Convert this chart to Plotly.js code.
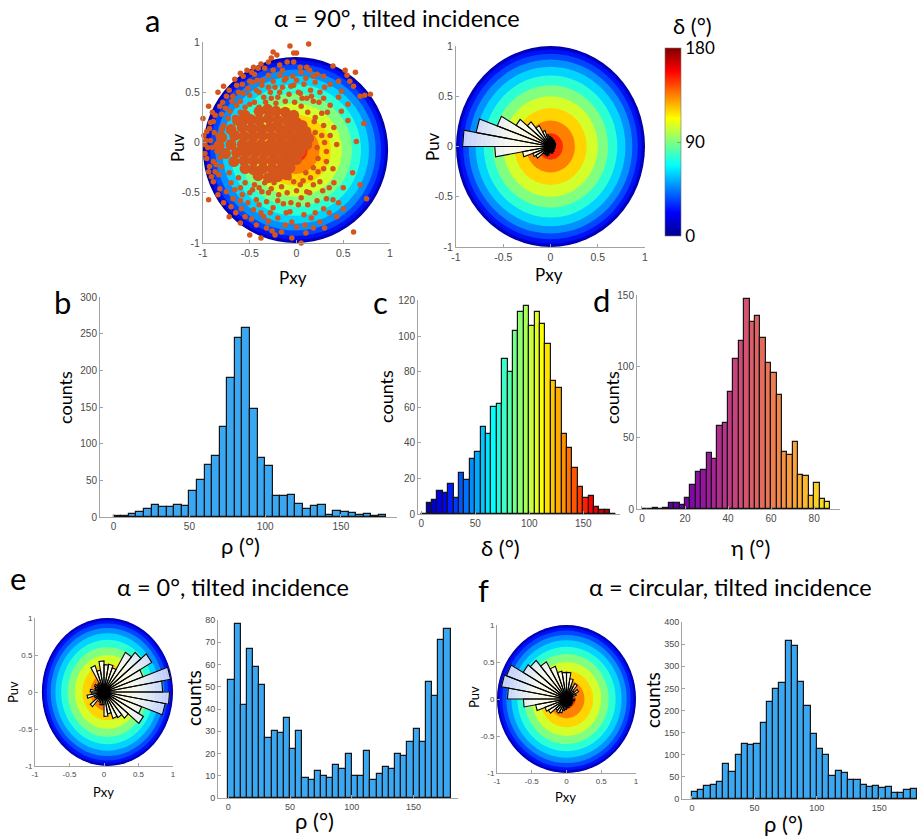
<!DOCTYPE html>
<html><head><meta charset="utf-8">
<script src="https://cdn.plot.ly/plotly-3.0.1.min.js"></script>
<style>html,body{margin:0;padding:0;background:#fff}#chart{width:917px;height:836px}</style>
</head><body><div id="chart"></div>
<script>
// ---------------- DATA ----------------
const binCenters = [2.5,7.5,12.5,17.5,22.5,27.5,32.5,37.5,42.5,47.5,52.5,57.5,62.5,67.5,72.5,77.5,82.5,87.5,92.5,97.5,102.5,107.5,112.5,117.5,122.5,127.5,132.5,137.5,142.5,147.5,152.5,157.5,162.5,167.5,172.5,177.5];
const rhoCountsB = [2,2,4,7,11,17,14,14,16,15,35,50,71,83,123,190,244,258,147,80,70,29,28,30,18,11,15,16,3,8,7,5,3,4,2,3];
const deltaCounts = [0,6,8,13,12,17,9,23,19,31,35,49,45,60,62,87,80,103,114,117,106,114,107,96,75,71,45,37,26,15,9,10,4,2,2,0];
const etaCenters = [1.25,3.75,6.25,8.75,11.25,13.75,16.25,18.75,21.25,23.75,26.25,28.75,31.25,33.75,36.25,38.75,41.25,43.75,46.25,48.75,51.25,53.75,56.25,58.75,61.25,63.75,66.25,68.75,71.25,73.75,76.25,78.75,81.25,83.75,86.25];
const etaCounts = [0,0,1,0,1,4,4,3,8,17,26,27,39,35,58,60,82,105,118,147,131,135,120,102,95,80,40,38,47,24,23,9,18,7,5];
const rhoCountsE = [53,78,42,67,59,51,27,30,29,36,22,30,9,8,12,10,9,15,13,20,10,10,21,8,11,14,13,20,19,25,31,25,52,46,71,76];
const rhoCountsF = [16,20,30,32,39,80,60,99,125,121,124,171,219,249,262,358,346,265,210,148,112,99,53,64,59,42,44,31,27,29,25,27,14,14,21,22];

// rose (polar histogram of 2*rho), bin centres in degrees and relative radii
const roseAngles = [5,15,25,35,45,55,65,75,85,95,105,115,125,135,145,155,165,175,185,195,205,215,225,235,245,255,265,275,285,295,305,315,325,335,345,355];
const roseA = [0.05,0.05,0.06,0.06,0.06,0.07,0.07,0.08,0.09,0.10,0.12,0.17,0.24,0.32,0.42,0.60,0.80,0.93,0.59,0.30,0.20,0.18,0.10,0.09,0.10,0.09,0.06,0.06,0.07,0.05,0.06,0.05,0.04,0.05,0.04,0.05];
const roseE = [0.85,0.98,0.60,0.80,0.70,0.62,0.35,0.38,0.37,0.42,0.30,0.38,0.14,0.13,0.16,0.14,0.13,0.20,0.18,0.25,0.15,0.14,0.26,0.12,0.15,0.18,0.17,0.33,0.30,0.38,0.40,0.46,0.66,0.58,0.90,0.95];
const roseF = [0.08,0.09,0.15,0.20,0.14,0.24,0.18,0.28,0.36,0.36,0.38,0.47,0.58,0.68,0.72,0.92,0.95,0.85,0.62,0.45,0.33,0.30,0.20,0.22,0.20,0.16,0.14,0.12,0.12,0.10,0.11,0.10,0.10,0.08,0.10,0.12];

// contour rings of delta (outer -> inner)
const ringRadii = [1.0,0.991,0.966,0.924,0.866,0.793,0.707,0.609,0.5,0.383,0.259,0.131];
const ringColors = ['#00008F','#0000C8','#0010F5','#0045FF','#0090FF','#00D4FF','#2BFFD4','#80FF80','#D4FF2B','#FFD400','#FF8000','#FF2B00'];

// panel a scatter (Pxy, Puv)
const scatterPts = [
[-0.07,0.96],[0.13,0.98],[0.0,0.89],[-0.25,0.90],[-0.21,0.87],[-0.27,0.84],[-0.03,0.89],[-0.6,0.69],
[-0.46,0.75],[-0.48,0.70],[-0.41,0.74],[-0.34,0.74],[-0.18,0.77],[-0.10,0.80],[-0.03,0.80],[0.04,0.75],[0.11,0.75],[0.14,0.72],[0.22,0.68],[0.29,0.66],[0.39,0.76],[0.52,0.72],[0.63,0.70],[0.54,0.67],[0.57,0.61],[0.61,0.56],[0.68,0.46],[0.73,0.47],[0.79,0.48],
[0.48,0.51],[0.45,0.61],[0.36,0.58],[0.29,0.44],[0.36,0.37],[0.27,0.29],[0.18,0.41],[0.11,0.44],[0.04,0.49],[-0.03,0.57],[-0.11,0.64],[-0.18,0.67],[-0.25,0.61],[-0.30,0.67],[-0.37,0.57],[-0.43,0.52],[-0.50,0.47],[-0.57,0.49],[-0.60,0.41],[-0.64,0.37],[-0.71,0.31],[-0.76,0.34],[-0.82,0.36],[-0.87,0.27],[-0.94,0.36],[-0.89,0.21],[-0.96,0.11],[-0.99,0.07],[-1.0,0.24],[-0.84,0.07],[-0.78,0.17],[-0.73,0.24],[-0.69,0.41],[-0.75,0.46],[-0.64,0.57],[-0.57,0.66],[-0.50,0.61],
[-0.35,0.45],[-0.28,0.50],[-0.20,0.45],[-0.15,0.55],[-0.08,0.48],[-0.02,0.40],[0.05,0.36],[-0.45,0.40],[-0.55,0.35],[-0.40,0.35],[-0.22,0.39],[-0.12,0.41],[0.0,0.62],[0.08,0.58],[0.15,0.52],[-0.30,0.55],[-0.42,0.62],[-0.62,0.50],[-0.25,0.72],[0.20,0.60],[0.25,0.50],[0.12,0.30],[0.20,0.25],[-0.66,0.25],[-0.80,0.28],[-0.72,0.52],
[-0.58,0.58],[-0.52,0.54],[-0.47,0.60],[-0.40,0.50],[-0.36,0.62],[-0.33,0.40],[-0.27,0.44],[-0.23,0.55],[-0.18,0.50],[-0.13,0.62],[-0.06,0.56],[-0.04,0.66],[0.02,0.50],[0.06,0.44],[0.10,0.64],[0.16,0.46],[0.18,0.66],[0.24,0.40],[0.30,0.55],[0.33,0.30],[-0.50,0.38],[-0.60,0.30],[-0.68,0.46],[-0.79,0.40],[-0.84,0.50],[-0.90,0.30],[-0.92,0.20],[-0.45,0.68],[-0.38,0.78],[-0.30,0.80],[-0.15,0.72],[0.05,0.70],[-0.53,0.72],[-0.66,0.63],[-0.78,0.56],
[-0.98,-0.02],[-0.98,-0.11],[-0.96,-0.16],[-0.93,-0.24],[-0.94,-0.29],[-0.87,-0.29],[-0.89,-0.19],[-0.85,-0.09],[-1.02,0.0],[-0.92,0.02],[-0.90,-0.05],
[-0.95,-0.05],[-0.88,0.10],[-0.82,-0.15],[-0.86,-0.22],[-0.80,0.13],[-0.93,0.14],[-0.97,0.02],[-0.91,-0.34],[-0.83,-0.32],[-0.80,-0.24],
[-0.89,-0.39],[-0.82,-0.46],[-0.94,-0.57],[-0.75,-0.49],[-0.68,-0.56],[-0.59,-0.66],[-0.55,-0.74],[-0.46,-0.67],[-0.43,-0.57],[-0.37,-0.49],[-0.32,-0.59],[-0.35,-0.74],[-0.43,-0.82],[-0.32,-0.85],[-0.23,-0.92],[-0.16,-0.89],[-0.50,-0.92],[-0.27,-0.46],[-0.19,-0.52],[-0.14,-0.61],[-0.07,-0.69],[-0.05,-0.79],[0.0,-0.84],[0.09,-0.82],[0.18,-0.85],[0.25,-0.79],[0.20,-0.70],[0.29,-0.66],[0.32,-0.56],[0.39,-0.57],[0.50,-0.66],[0.43,-0.74],[0.61,-0.89],[0.75,-0.56],[0.11,-0.49],[0.04,-0.42],[-0.03,-0.39],[0.18,-0.42],[0.25,-0.39],[0.23,-0.29],[0.29,-0.26],[0.32,-0.19],[0.39,-0.26],[0.32,-0.09],[0.43,-0.02],[0.64,0.01],[0.72,0.19],[0.27,0.07],[0.29,0.17],[0.19,0.21],[-0.16,-1.03],[0.20,-1.02],
[-0.60,-0.45],[-0.50,-0.50],[-0.55,-0.40],[-0.45,-0.42],[-0.62,-0.35],[-0.70,-0.40],[-0.25,-0.65],[-0.20,-0.75],[-0.10,-0.50],[0.05,-0.55],[0.12,-0.62],[0.15,-0.35],[-0.40,-0.62],[-0.65,-0.70],[-0.30,-0.78],[0.08,-0.72],[0.35,-0.45],[0.10,-0.30],[-0.08,-0.35],[-0.60,-0.58],[-0.78,-0.60],[-0.12,-0.82],[0.30,-0.85],[-0.38,-0.95],[-0.05,-0.95],[0.05,-1.0],
[-0.72,-0.30],[-0.66,-0.47],[-0.58,-0.52],[-0.52,-0.60],[-0.47,-0.47],[-0.40,-0.45],[-0.34,-0.40],[-0.30,-0.50],[-0.24,-0.40],[-0.20,-0.58],[-0.16,-0.44],[-0.11,-0.70],[-0.06,-0.60],[0.0,-0.48],[0.02,-0.62],[0.07,-0.38],[0.14,-0.50],[0.16,-0.75],[-0.28,-0.70],[-0.38,-0.70],[-0.48,-0.76],[-0.60,-0.80],[-0.70,-0.64],[-0.26,-0.88],[0.10,-0.90],[0.22,-0.58],[0.28,-0.48],[0.40,-0.40],[0.45,-0.60],[-0.84,-0.52],[-0.72,-0.74],[0.35,-0.70],
[0.36,0.07],[0.23,-0.16],[0.48,0.31],[0.55,0.22],[0.60,-0.30],[0.50,-0.45],[0.68,-0.42],[0.20,0.10],[0.22,-0.05],[0.18,-0.25],[0.30,0.0],[0.40,0.15],[0.45,0.45],[0.55,0.38]
];
// dense core of the scatter cloud
const corePts = [
[-0.40,0.31],[-0.31,0.33],[-0.22,0.31],[-0.12,0.30],[-0.03,0.27],[-0.55,0.27],[-0.63,0.22],
[-0.58,0.21],[-0.49,0.23],[-0.40,0.22],[-0.30,0.24],[-0.20,0.22],[-0.10,0.22],[0.0,0.20],[0.06,0.17],
[-0.70,0.13],[-0.58,0.15],[-0.48,0.14],[-0.38,0.14],[-0.28,0.15],[-0.18,0.14],[-0.08,0.14],[0.02,0.14],[0.10,0.11],
[-0.80,0.05],[-0.66,0.07],[-0.56,0.06],[-0.46,0.06],[-0.36,0.07],[-0.26,0.06],[-0.16,0.06],[-0.06,0.06],[0.04,0.06],[0.13,0.04],
[-0.83,-0.03],[-0.70,-0.02],[-0.58,-0.02],[-0.48,-0.02],[-0.38,-0.02],[-0.28,-0.02],[-0.18,-0.02],[-0.08,-0.02],[0.02,-0.02],[0.11,-0.02],
[-0.76,-0.11],[-0.64,-0.10],[-0.54,-0.10],[-0.44,-0.10],[-0.34,-0.10],[-0.24,-0.10],[-0.14,-0.10],[-0.04,-0.10],[0.04,-0.09],
[-0.67,-0.19],[-0.56,-0.18],[-0.46,-0.18],[-0.36,-0.18],[-0.26,-0.18],[-0.16,-0.18],[-0.06,-0.18],[0.0,-0.17],
[-0.55,-0.26],[-0.46,-0.27],[-0.36,-0.26],[-0.26,-0.26],[-0.16,-0.26],[-0.07,-0.25],
[-0.41,-0.33],[-0.30,-0.35],[-0.20,-0.34],[-0.11,-0.32]
];

const discTicks = [-1,-0.5,0,0.5,1];
const discTickText = ['-1','-0.5','0','0.5','1'];
const rhoTicks = [0,50,100,150];
const etaTicks = [0,20,40,60,80];

// ---------------- HELPERS ----------------
const W = 917, H = 836;
const xd = (a,b) => [a/W, b/W];
const yd = (a,b) => [1-b/H, 1-a/H];
const LBL = 'Lato, "Open Sans", "DejaVu Sans", sans-serif';
const TCK = '"Liberation Sans", Arial, sans-serif';

function mkAxis(domain, range, anchor, tickvals, ticktext, size){
  const a = {domain, range, anchor, tickmode:'array', tickvals, showgrid:false, zeroline:false,
    showline:true, linecolor:'#a3a3a3', linewidth:1, ticks:'inside', ticklen:3, tickcolor:'#a3a3a3',
    tickfont:{family:TCK, size, color:'#4a4a4a'}, fixedrange:true, automargin:false};
  if (ticktext) a.ticktext = ticktext;
  return a;
}
function ann(text, px, py, size, angle){
  const o = {text, x:px/W, y:1-py/H, xref:'paper', yref:'paper', showarrow:false,
    xanchor:'center', yanchor:'middle', font:{family:LBL, size, color:'#000'}};
  if (angle) o.textangle = angle;
  return o;
}
function discShapes(xref, yref, cx, cy, rx, ry){
  return ringRadii.map((f,i)=>({type:'circle', xref, yref, layer:'below',
    x0:cx-f*rx, x1:cx+f*rx, y0:cy-f*ry, y1:cy+f*ry, fillcolor:ringColors[i], line:{width:0}}));
}
function petalColor(r){
  const st = [[0,[255,250,205]],[0.45,[248,249,240]],[1.0,[188,204,255]]];
  let i = 0; while (i < st.length-2 && r > st[i+1][0]) i++;
  const t = Math.max(0, Math.min(1, (r-st[i][0])/(st[i+1][0]-st[i][0])));
  const c = st[i][1].map((v,k)=>Math.round(v+(st[i+1][1][k]-v)*t));
  return 'rgb('+c.join(',')+')';
}
function roseTraces(radii, xa, ya){
  const nSeg = 20, out = [];
  const rad = d => d*Math.PI/180;
  for (let k=0;k<nSeg;k++){
    const r0 = k/nSeg, r1 = (k+1)/nSeg, xs=[], ys=[];
    radii.forEach((R,i)=>{
      if (R <= r0) return;
      const rr = Math.min(R, r1);
      const a0 = rad(roseAngles[i]-5), a1 = rad(roseAngles[i]+5);
      xs.push(r0*Math.cos(a0), rr*Math.cos(a0), rr*Math.cos(a1), r0*Math.cos(a1), r0*Math.cos(a0), null);
      ys.push(r0*Math.sin(a0), rr*Math.sin(a0), rr*Math.sin(a1), r0*Math.sin(a1), r0*Math.sin(a0), null);
    });
    if (!xs.length) continue;
    const col = petalColor((r0+r1)/2);
    out.push({type:'scatter', mode:'lines', x:xs, y:ys, fill:'toself', fillcolor:col,
      line:{width:0.6, color:col}, xaxis:xa, yaxis:ya, hoverinfo:'skip', showlegend:false});
  }
  const ox=[], oy=[];
  radii.forEach((R,i)=>{
    const a0 = rad(roseAngles[i]-5), a1 = rad(roseAngles[i]+5);
    ox.push(0, R*Math.cos(a0), R*Math.cos(a1), 0, null);
    oy.push(0, R*Math.sin(a0), R*Math.sin(a1), 0, null);
  });
  out.push({type:'scatter', mode:'lines', x:ox, y:oy, line:{width:1.1, color:'#000'},
    xaxis:xa, yaxis:ya, hoverinfo:'skip', showlegend:false});
  return out;
}
function histTrace(x, y, width, xa, ya, marker){
  return {type:'bar', x, y, width, xaxis:xa, yaxis:ya, marker, hoverinfo:'x+y', showlegend:false};
}

const jetScale = [[0,'#00008F'],[0.125,'#0000FF'],[0.375,'#00FFFF'],[0.625,'#FFFF00'],[0.875,'#FF0000'],[1,'#800000']];
const plasmaScale = [[0,'#0d0887'],[0.1,'#41049d'],[0.2,'#6a00a8'],[0.3,'#8f0da4'],[0.4,'#b12a90'],[0.5,'#cc4778'],[0.6,'#e16462'],[0.7,'#f2844b'],[0.8,'#fca636'],[0.9,'#fcce25'],[1,'#f0f921']];
const histBlue = '#3AA7F3';
const edge = {color:'#151515', width:1.2};
const dotColor = '#D4561C';

// ---------------- TRACES ----------------
const traces = [];
traces.push({type:'scatter', mode:'markers', x:corePts.map(p=>p[0]), y:corePts.map(p=>p[1]),
  marker:{color:dotColor, size:11, line:{width:0}}, xaxis:'x', yaxis:'y', cliponaxis:false, hoverinfo:'skip', showlegend:false});
traces.push({type:'scatter', mode:'markers', x:scatterPts.map(p=>p[0]), y:scatterPts.map(p=>p[1]),
  marker:{color:dotColor, size:5.5, line:{width:0}}, xaxis:'x', yaxis:'y', cliponaxis:false, showlegend:false});
traces.push(...roseTraces(roseA, 'x2', 'y2'));
traces.push(...roseTraces(roseE, 'x6', 'y6'));
traces.push(...roseTraces(roseF, 'x8', 'y8'));

traces.push(histTrace(binCenters, rhoCountsB, 5, 'x3', 'y3', {color:histBlue, line:edge}));
traces.push(histTrace(binCenters, deltaCounts, 5, 'x4', 'y4', {color:binCenters, colorscale:jetScale, cmin:0, cmax:180, line:edge,
  showscale:true, colorbar:{x:665/W, xanchor:'left', y:1-142/H, yanchor:'middle', len:188/H, lenmode:'fraction',
    thickness:16, thicknessmode:'pixels', xpad:0, ypad:0, outlinewidth:0.6, outlinecolor:'#777',
    tickmode:'array', tickvals:[0,90,180], ticks:'inside', ticklen:4, tickcolor:'rgba(0,0,0,0.25)',
    tickfont:{family:LBL, size:17, color:'#000'}}}));
traces.push(histTrace(etaCenters, etaCounts, 2.5, 'x5', 'y5', {color:etaCenters, colorscale:plasmaScale, cmin:0, cmax:90, line:edge}));
traces.push(histTrace(binCenters, rhoCountsE, 5, 'x7', 'y7', {color:histBlue, line:edge}));
traces.push(histTrace(binCenters, rhoCountsF, 5, 'x9', 'y9', {color:histBlue, line:edge}));

// ---------------- LAYOUT ----------------
const layout = {
  width:W, height:H, margin:{l:0,r:0,t:0,b:0}, paper_bgcolor:'#fff', plot_bgcolor:'rgba(0,0,0,0)',
  showlegend:false, bargap:0, hovermode:'closest',
  xaxis:  mkAxis(xd(203,390), [-1,1], 'y', discTicks, discTickText, 10.5),
  yaxis:  mkAxis(yd(42,243), [-1,1], 'x', discTicks, discTickText, 10.5),
  xaxis2: mkAxis(xd(456,645), [-1,1], 'y2', discTicks, discTickText, 10.5),
  yaxis2: mkAxis(yd(46,247), [-1,1], 'x2', discTicks, discTickText, 10.5),
  xaxis3: mkAxis(xd(100,397), [-9,187], 'y3', rhoTicks, null, 10),
  yaxis3: mkAxis(yd(297,517), [0,300], 'x3', [0,50,100,150,200,250,300], null, 10),
  xaxis4: mkAxis(xd(418,620), [-3,184], 'y4', rhoTicks, null, 10),
  yaxis4: mkAxis(yd(300,514), [0,120.5], 'x4', [0,20,40,60,80,100,120], null, 10),
  xaxis5: mkAxis(xd(637,840), [-2.3,92], 'y5', etaTicks, null, 10),
  yaxis5: mkAxis(yd(295,509), [0,150], 'x5', [0,50,100,150], null, 10),
  xaxis6: mkAxis(xd(35,173), [-1,1], 'y6', discTicks, discTickText, 8),
  yaxis6: mkAxis(yd(618,766), [-1,1], 'x6', discTicks, discTickText, 8),
  xaxis7: mkAxis(xd(218,458), [-8.4,186], 'y7', rhoTicks, null, 9),
  yaxis7: mkAxis(yd(620,798), [0,80], 'x7', [0,10,20,30,40,50,60,70,80], null, 9),
  xaxis8: mkAxis(xd(497,636), [-1,1], 'y8', discTicks, discTickText, 8),
  yaxis8: mkAxis(yd(625,773), [-1,1], 'x8', discTicks, discTickText, 8),
  xaxis9: mkAxis(xd(682,917), [-8,180.2], 'y9', rhoTicks, null, 9),
  yaxis9: mkAxis(yd(622,799), [0,400], 'x9', [0,50,100,150,200,250,300,350,400], null, 9),
  shapes: [].concat(
    discShapes('x','y', -0.01, -0.075, 0.99, 0.925),
    discShapes('x2','y2', 0, 0, 1, 1),
    discShapes('x6','y6', 0.05, 0, 0.95, 1),
    discShapes('x8','y8', 0, 0, 1, 1)
  ),
  annotations: [
    ann('a', 152, 20, 31), ann('α = 90°, tilted incidence', 397, 18, 23.5),
    ann('Pxy', 293, 277, 17), ann('Puv', 177, 148, 17, -90),
    ann('Pxy', 549, 274, 17), ann('Puv', 432, 147, 17, -90),
    ann('δ (°)', 692, 26, 22),
    ann('b', 62, 302, 31), ann('counts', 65, 398, 18, -90), ann('ρ (°)', 240, 545, 22),
    ann('c', 380, 302, 31), ann('counts', 386, 397, 18, -90), ann('δ (°)', 500, 547, 22),
    ann('d', 601, 300, 31), ann('counts', 612, 398, 18, -90), ann('η (°)', 750, 547, 22),
    ann('e', 18, 578, 31), ann('α = 0°, tilted incidence', 233, 587, 23.5),
    ann('Pxy', 103, 792, 13), ann('Puv', 13, 692, 13, -90),
    ann('counts', 193, 698, 19, -90), ann('ρ (°)', 314, 820, 22),
    ann('f', 483, 590, 31), ann('α = circular, tilted incidence', 730, 587, 23.5),
    ann('Pxy', 565, 797, 13), ann('Puv', 474, 697, 13, -90),
    ann('counts', 652, 700, 19, -90), ann('ρ (°)', 783, 823, 22)
  ]
};

Plotly.newPlot('chart', traces, layout, {displayModeBar:false, responsive:false});
</script>
</body></html>
